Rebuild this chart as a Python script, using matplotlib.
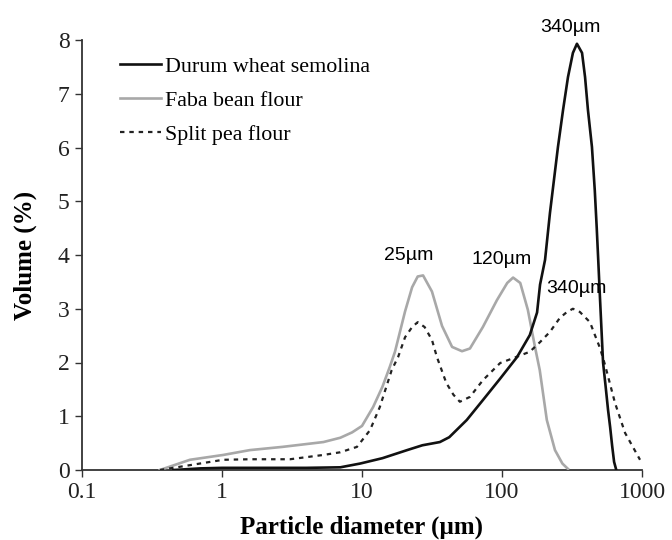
import matplotlib
matplotlib.use("Agg")
import matplotlib.pyplot as plt
from matplotlib.ticker import FixedLocator, FixedFormatter, NullLocator

plt.rcParams["font.family"] = ["Liberation Serif", "DejaVu Serif"]

# particle size distributions (x in um, y in volume %)
durum_x = [0.45, 0.7, 1.0, 2.0, 4.0, 7.0, 9.7, 14, 21, 27, 36, 42, 56, 73, 97, 128, 158,
           178, 187, 203, 220, 251, 273, 296, 321, 343, 373, 392, 411, 439, 460, 475, 487,
           501, 527, 550, 572, 592, 612, 632, 652]
durum_y = [0.0, 0.03, 0.04, 0.04, 0.04, 0.05, 0.12, 0.22, 0.37, 0.46, 0.52, 0.61, 0.93, 1.30,
           1.70, 2.10, 2.51, 2.93, 3.45, 3.91, 4.78, 6.01, 6.70, 7.31, 7.76, 7.93, 7.76, 7.31,
           6.70, 6.01, 5.20, 4.50, 3.90, 3.20, 2.00, 1.55, 1.12, 0.80, 0.45, 0.15, 0.02]

faba_x = [0.36, 0.59, 1.02, 1.58, 2.7, 5.3, 7.0, 8.5, 10, 12, 14, 15.8, 17.2, 20.3, 22.8,
          25.0, 27.3, 31.6, 37.3, 44, 51.8, 59, 73, 92, 109, 120, 135, 153, 172, 186, 209,
          239, 270, 296]
faba_y = [0.0, 0.19, 0.28, 0.37, 0.43, 0.52, 0.60, 0.70, 0.82, 1.17, 1.55, 1.92, 2.20, 2.95,
          3.40, 3.60, 3.62, 3.32, 2.68, 2.29, 2.21, 2.26, 2.66, 3.16, 3.48, 3.58, 3.48, 2.98,
          2.29, 1.86, 0.93, 0.37, 0.12, 0.02]

pea_x = [0.36, 0.59, 1.02, 1.58, 3.06, 5.3, 7.0, 9.2, 11.4, 13.4, 16.3, 18.1, 20.3, 22.8,
         25, 28, 31.6, 34.3, 40, 45, 50, 59, 73, 97, 120, 158, 187, 220, 259, 291, 321, 360,
         425, 461, 501, 545, 641, 757, 968]
pea_y = [0.0, 0.09, 0.19, 0.20, 0.20, 0.28, 0.33, 0.43, 0.74, 1.17, 1.86, 2.10, 2.47, 2.66,
         2.75, 2.66, 2.42, 2.10, 1.62, 1.40, 1.27, 1.36, 1.67, 1.99, 2.08, 2.20, 2.38, 2.57,
         2.83, 2.94, 3.00, 2.94, 2.75, 2.51, 2.27, 1.95, 1.25, 0.69, 0.19]

series_labels = ["Durum wheat semolina", "Faba bean flour", "Split pea flour"]

x_ticks = [0.1, 1, 10, 100, 1000]
x_tick_labels = ["0.1", "1", "10", "100", "1000"]
y_ticks = [0, 1, 2, 3, 4, 5, 6, 7, 8]

# peak annotations: (text, x, y)
peak_labels = ["340\u00b5m", "25\u00b5m", "120\u00b5m", "340\u00b5m"]
peak_x = [306, 21.7, 100, 340]
peak_y = [8.24, 3.99, 3.92, 3.38]

fig = plt.figure(figsize=(6.72, 5.4), dpi=100)
ax = fig.add_axes([82 / 672, 70 / 540, 560 / 672, 430 / 540])

ax.plot(durum_x, durum_y, color="#111111", lw=1.9, label=series_labels[0], zorder=4,
        solid_joinstyle="round")
ax.plot(faba_x, faba_y, color="#a8a8a8", lw=1.9, label=series_labels[1], zorder=3,
        solid_joinstyle="round")
ax.plot(pea_x, pea_y, color="#222222", lw=1.6, ls=(0, (2.0, 2.2)), label=series_labels[2],
        zorder=3)

ax.set_xscale("log")
ax.set_xlim(0.1, 1000)
ax.set_ylim(0, 8)
ax.xaxis.set_major_locator(FixedLocator(x_ticks))
ax.xaxis.set_major_formatter(FixedFormatter(x_tick_labels))
ax.xaxis.set_minor_locator(NullLocator())
ax.set_yticks(y_ticks)

for side in ["top", "right"]:
    ax.spines[side].set_visible(False)
for side in ["left", "bottom"]:
    ax.spines[side].set_color("#333333")
    ax.spines[side].set_linewidth(1.3)
ax.tick_params(direction="out", length=5, width=1.0, color="#333333",
               labelsize=17, labelcolor="#222222", pad=4)

ax.set_xlabel("Particle diameter (\u00b5m)", fontsize=18, fontweight="bold", labelpad=9)
ax.set_ylabel("Volume (%)", fontsize=18, fontweight="bold", labelpad=15)

for txt, px, py in zip(peak_labels, peak_x, peak_y):
    ax.text(px, py, txt, ha="center", va="center", fontsize=14,
            family=["Liberation Sans", "DejaVu Sans"], clip_on=False, zorder=5)

ax.legend(loc="upper left", bbox_to_anchor=(0.068, 0.962), frameon=False, fontsize=15.8,
          handlelength=1.85, handletextpad=0.2, labelspacing=0.62, borderpad=0, borderaxespad=0)

fig.savefig("out.png", dpi=100)
